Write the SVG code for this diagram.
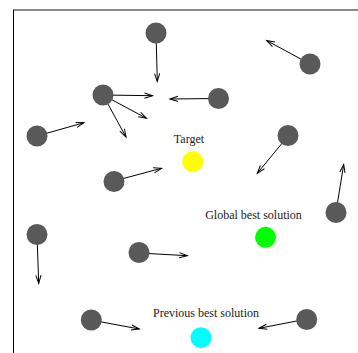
<svg xmlns="http://www.w3.org/2000/svg" width="358" height="353" viewBox="0 0 358 353">
<style>
.p{fill:#595959}
.c{stroke:#000;stroke-width:1;fill:none;marker-end:url(#ah)}
.t{font-family:"Liberation Serif","Times New Roman",serif;font-size:12px;fill:#222;text-anchor:middle}
</style>
<defs>
<marker id="ah" markerUnits="userSpaceOnUse" markerWidth="12" markerHeight="10" viewBox="-9 -5 10 10" refX="0" refY="0" orient="auto" overflow="visible">
<path d="M-8,-2.6 L0,0 L-8,2.6" fill="none" stroke="#000" stroke-width="1"/>
</marker>
</defs>
<rect width="358" height="353" fill="#fff"/>
<g id="frame">
<line x1="13" y1="10" x2="358" y2="10" stroke="#666" stroke-width="1.6"/>
<line x1="13.5" y1="10" x2="13.5" y2="353" stroke="#000" stroke-width="1"/>
</g>
<g id="connectors">
<line class="c" x1="156" y1="33" x2="157.3" y2="81.5"/>
<line class="c" x1="103" y1="95" x2="152.5" y2="95.7"/>
<line class="c" x1="103" y1="95" x2="146.5" y2="118.3"/>
<line class="c" x1="103" y1="95" x2="126" y2="137"/>
<line class="c" x1="37" y1="136" x2="84" y2="122.7"/>
<line class="c" x1="114" y1="181" x2="161.5" y2="168.3"/>
<line class="c" x1="218" y1="98.5" x2="170" y2="99"/>
<line class="c" x1="310" y1="64" x2="266.7" y2="40.5"/>
<line class="c" x1="288" y1="136" x2="257.3" y2="173.3"/>
<line class="c" x1="336" y1="212" x2="343.7" y2="164.5"/>
<line class="c" x1="37" y1="234" x2="38.7" y2="283.3"/>
<line class="c" x1="139" y1="253" x2="187.3" y2="255.7"/>
<line class="c" x1="91" y1="320" x2="139.3" y2="329"/>
<line class="c" x1="307" y1="319" x2="259" y2="328.3"/>
</g>
<g id="p1"><circle class="p" cx="156" cy="33" r="10.5"/></g>
<g id="p2"><circle class="p" cx="103" cy="95" r="10.5"/></g>
<g id="p3"><circle class="p" cx="37" cy="136" r="10.5"/></g>
<g id="p4"><circle class="p" cx="114" cy="181.5" r="10.5"/></g>
<g id="p5"><circle class="p" cx="218.5" cy="98.5" r="10.5"/></g>
<g id="p6"><circle class="p" cx="310" cy="64" r="10.5"/></g>
<g id="p7"><circle class="p" cx="288" cy="135.5" r="10.5"/></g>
<g id="p8"><circle class="p" cx="336" cy="212.5" r="10.5"/></g>
<g id="p9"><circle class="p" cx="37" cy="234.5" r="10.5"/></g>
<g id="p10"><circle class="p" cx="139" cy="252.5" r="10.5"/></g>
<g id="p11"><circle class="p" cx="91.3" cy="320" r="10.5"/></g>
<g id="p12"><circle class="p" cx="306.7" cy="319.5" r="10.5"/></g>
<g id="target">
<circle cx="192.7" cy="161.7" r="10.5" fill="#ffff00"/>
<text class="t" x="189" y="142.5">Target</text>
</g>
<g id="global-best">
<circle cx="265.5" cy="237.3" r="10.5" fill="#00ff00"/>
<text class="t" x="253.5" y="218.5">Global best solution</text>
</g>
<g id="previous-best">
<circle cx="201" cy="337.7" r="10.5" fill="#00ffff"/>
<text class="t" x="206" y="316.5">Previous best solution</text>
</g>
</svg>
